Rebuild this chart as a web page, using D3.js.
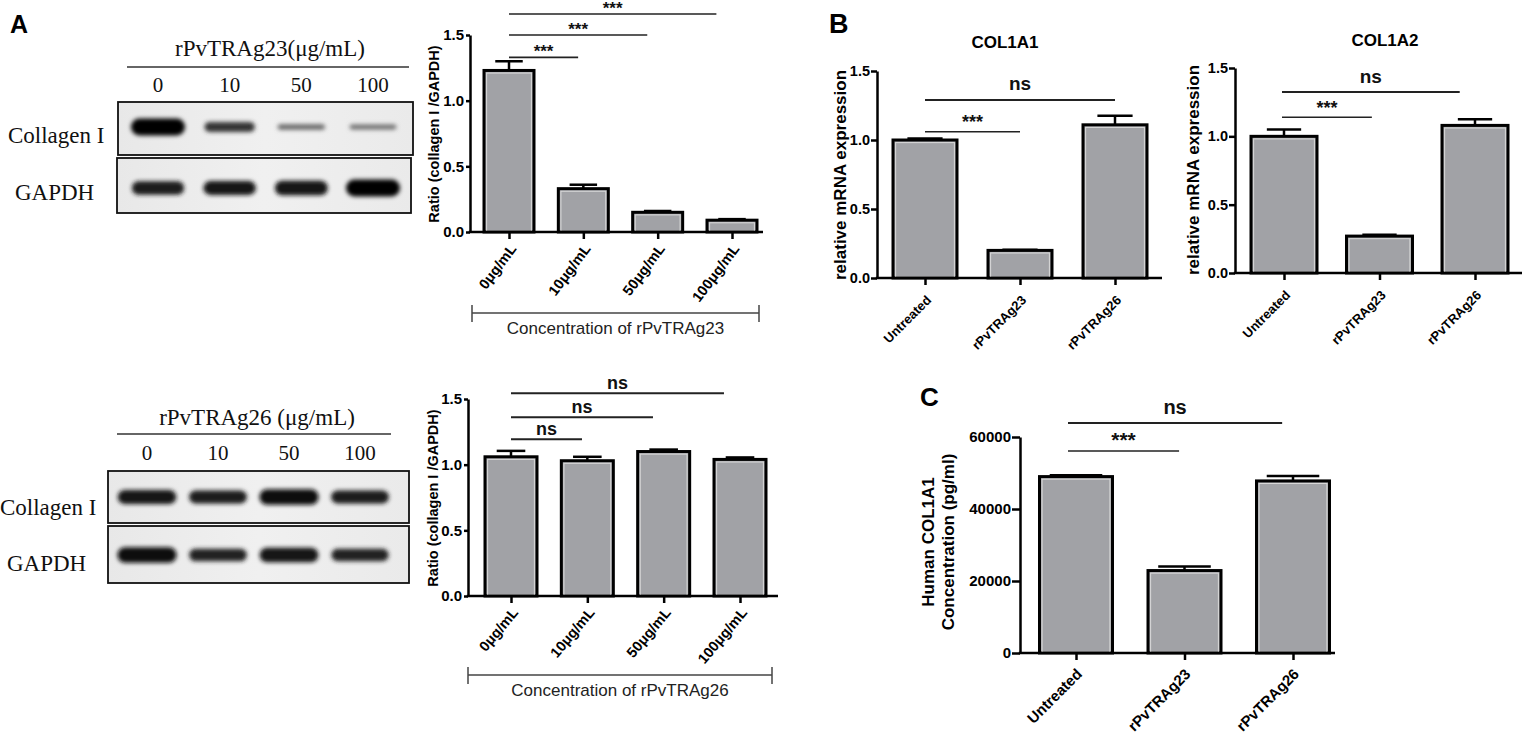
<!DOCTYPE html>
<html><head><meta charset="utf-8">
<script src="https://cdn.jsdelivr.net/npm/d3@7"></script>
<style>body{margin:0;background:#fff} svg{display:block}</style>
</head><body><svg id="fig" width="1525" height="739"></svg>
<script>
// ---------------- DATA ----------------
const blotDoses = ["0", "10", "50", "100"];
const collagenBands23 = [1.0, 0.62, 0.3, 0.27];
const gapdhBands23 = [0.82, 0.84, 0.88, 1.0];
const collagenBands26 = [0.86, 0.8, 0.92, 0.8];
const gapdhBands26 = [0.92, 0.78, 0.88, 0.76];

const doseLabels = ["0μg/mL", "10μg/mL", "50μg/mL", "100μg/mL"];
const ratio23 = [1.23, 0.33, 0.15, 0.09];
const ratio23Err = [0.07, 0.03, 0.01, 0.008];
const ratio26 = [1.06, 1.03, 1.10, 1.04];
const ratio26Err = [0.045, 0.03, 0.015, 0.015];

const treatments = ["Untreated", "rPvTRAg23", "rPvTRAg26"];
const col1a1 = [1.00, 0.20, 1.11];
const col1a1Err = [0.01, 0.005, 0.065];
const col1a2 = [1.00, 0.27, 1.08];
const col1a2Err = [0.05, 0.01, 0.045];
const elisa = [49000, 22900, 47800];
const elisaErr = [400, 1100, 1400];

const ratioTicks = [0, 0.5, 1.0, 1.5];
const elisaTicks = [0, 20000, 40000, 60000];

const sigRatio23 = [{a:0,b:1,t:"***",h:1.33},{a:0,b:2,t:"***",h:1.50},{a:0,b:3,t:"***",h:1.66}];
const sigRatio26 = [{a:0,b:1,t:"ns",h:1.194},{a:0,b:2,t:"ns",h:1.361},{a:0,b:3,t:"ns",h:1.544}];
const sigCol1a1 = [{a:0,b:1,t:"***",h:1.06},{a:0,b:2,t:"ns",h:1.29}];
const sigCol1a2 = [{a:0,b:1,t:"***",h:1.14},{a:0,b:2,t:"ns",h:1.324}];
const sigElisa = [{a:0,b:1,t:"***",h:56100},{a:0,b:2,t:"ns",h:63900}];

// ---------------- DRAWING ----------------
const svg = d3.select("#fig");
const SANS = "'Liberation Sans', Arial, sans-serif";
const SERIF = "'Liberation Serif', 'Times New Roman', serif";
svg.append("rect").attr("width", 1525).attr("height", 739).attr("fill", "#fff");
const defs = svg.append("defs");
defs.append("filter").attr("id", "blur").attr("x", "-30%").attr("y", "-100%")
  .attr("width", "160%").attr("height", "300%")
  .append("feGaussianBlur").attr("stdDeviation", 2.0);
const bg = defs.append("linearGradient").attr("id", "blotbg").attr("x1", 0).attr("x2", 1).attr("y1", 0).attr("y2", 0);
bg.append("stop").attr("offset", "0%").attr("stop-color", "#e8e8e8");
bg.append("stop").attr("offset", "50%").attr("stop-color", "#f0f0f0");
bg.append("stop").attr("offset", "100%").attr("stop-color", "#eaeaea");

function letter(t, x, y, size) {
  svg.append("text").attr("x", x).attr("y", y).attr("font-family", SANS)
    .attr("font-weight", "bold").attr("font-size", size).attr("fill", "#000").text(t);
}
letter("A", 10, 33, 25);
letter("B", 829, 33, 27);
letter("C", 920, 406, 26);

function drawBlot(cfg) {
  const g = svg.append("g");
  const lane = d3.scalePoint().domain(blotDoses).range(cfg.laneRange);
  g.append("text").attr("x", cfg.titleX).attr("y", cfg.titleY).attr("text-anchor", "middle")
    .attr("font-family", SERIF).attr("font-size", 23).attr("fill", "#111").text(cfg.title);
  g.append("line").attr("x1", cfg.rule[0]).attr("x2", cfg.rule[1]).attr("y1", cfg.ruleY).attr("y2", cfg.ruleY)
    .attr("stroke", "#333").attr("stroke-width", 1.5);
  g.selectAll(".dose").data(blotDoses).join("text").attr("class", "dose")
    .attr("x", d => lane(d)).attr("y", cfg.doseY).attr("text-anchor", "middle")
    .attr("font-family", SERIF).attr("font-size", 21).attr("fill", "#111").text(d => d);
  cfg.rows.forEach(row => {
    g.append("rect").attr("x", row.box[0]).attr("y", row.box[1])
      .attr("width", row.box[2] - row.box[0]).attr("height", row.box[3] - row.box[1])
      .attr("fill", "url(#blotbg)").attr("stroke", "#111").attr("stroke-width", 1.8);
    g.append("text").attr("x", row.labelX).attr("y", row.labelY)
      .attr("font-family", SERIF).attr("font-size", 23).attr("fill", "#111").text(row.label);
    const bands = g.append("g").attr("filter", "url(#blur)");
    const bw = v => cfg.bandW * (0.82 + 0.18 * v);
    const bh = v => 3 + 14 * Math.pow(v, 1.5);
    bands.selectAll("rect").data(row.values).join("rect")
      .attr("x", (v, i) => lane(blotDoses[i]) - bw(v) / 2)
      .attr("y", v => row.bandY - bh(v) / 2)
      .attr("width", bw).attr("height", bh)
      .attr("rx", v => bh(v) / 2).attr("ry", v => bh(v) / 2)
      .attr("fill", v => d3.interpolateRgb("#cfcfcf", "#060606")(Math.pow(v, 0.55)));
  });
}

drawBlot({
  title: "rPvTRAg23(μg/mL)", titleX: 270, titleY: 56, rule: [127, 409], ruleY: 67, doseY: 92,
  laneRange: [158, 373], bandW: 54,
  rows: [
    {label: "Collagen I", labelX: 8, labelY: 143, box: [118, 102, 413, 155], bandY: 127, values: collagenBands23},
    {label: "GAPDH", labelX: 15, labelY: 200, box: [117, 158, 411, 213], bandY: 188, values: gapdhBands23}
  ]
});
drawBlot({
  title: "rPvTRAg26 (μg/mL)", titleX: 257, titleY: 425, rule: [117, 391], ruleY: 434, doseY: 460,
  laneRange: [147, 360], bandW: 60,
  rows: [
    {label: "Collagen I", labelX: 0, labelY: 515, box: [108, 471, 409, 523], bandY: 497, values: collagenBands26},
    {label: "GAPDH", labelX: 7, labelY: 571, box: [108, 526, 409, 583], bandY: 555, values: gapdhBands26}
  ]
});

function drawBars(cfg) {
  const g = svg.append("g");
  const x = d3.scalePoint().domain(cfg.cats).range(cfg.centers);
  const y = d3.scaleLinear().domain(cfg.domain).range(cfg.yRange);
  const y0 = y(0);
  const bw = cfg.bw;
  const data = cfg.values.map((v, i) => ({c: cfg.cats[i], v, e: cfg.errs[i]}));

  // bars
  g.selectAll(".bar").data(data).join("rect").attr("class", "bar")
    .attr("x", d => x(d.c) - bw / 2).attr("y", d => y(d.v))
    .attr("width", bw).attr("height", d => y0 - y(d.v))
    .attr("fill", "#a1a2a6").attr("stroke", "#000").attr("stroke-width", 3);
  g.selectAll(".hl").data(data).join("rect").attr("class", "hl")
    .attr("x", d => x(d.c) - bw / 2 + 2.6).attr("y", d => y(d.v) + 2.6)
    .attr("width", bw - 5.2).attr("height", d => Math.max(0, y0 - y(d.v) - 3.5))
    .attr("fill", "none").attr("stroke", "#d9d9d9").attr("stroke-width", 1);
  // error bars
  g.selectAll(".eb").data(data).join("line").attr("class", "eb")
    .attr("x1", d => x(d.c)).attr("x2", d => x(d.c))
    .attr("y1", d => y(d.v)).attr("y2", d => y(d.v + d.e))
    .attr("stroke", "#000").attr("stroke-width", 2.5);
  g.selectAll(".cap").data(data).join("line").attr("class", "cap")
    .attr("x1", d => x(d.c) - bw * cfg.cap / 2).attr("x2", d => x(d.c) + bw * cfg.cap / 2)
    .attr("y1", d => y(d.v + d.e)).attr("y2", d => y(d.v + d.e))
    .attr("stroke", "#000").attr("stroke-width", 2.5);

  // y axis
  const ya = g.append("g").attr("transform", `translate(${cfg.axisX},0)`)
    .call(d3.axisLeft(y).tickValues(cfg.ticks).tickFormat(cfg.fmt)
      .tickSize(cfg.tickLen).tickPadding(cfg.tickPad).tickSizeOuter(0));
  ya.select(".domain").attr("stroke", "#000").attr("stroke-width", 2.5);
  ya.selectAll(".tick line").attr("stroke", "#000").attr("stroke-width", 2.5);
  ya.selectAll(".tick text").attr("font-family", SANS).attr("font-weight", "bold")
    .attr("font-size", cfg.tickFont).attr("fill", "#000");

  // x axis
  g.append("line").attr("x1", cfg.axisX - 1.2).attr("x2", cfg.axisEnd).attr("y1", y0).attr("y2", y0)
    .attr("stroke", "#000").attr("stroke-width", 2.5);
  const xa = g.append("g").attr("transform", `translate(0,${y0})`)
    .call(d3.axisBottom(x).tickSize(7).tickSizeOuter(0).tickFormat(""));
  xa.select(".domain").remove();
  xa.selectAll(".tick line").attr("stroke", "#000").attr("stroke-width", 2.5);
  g.selectAll(".xl").data(cfg.labels).join("text").attr("class", "xl")
    .attr("transform", (d, i) => `translate(${x(cfg.cats[i]) + cfg.lblDx},${y0 + cfg.lblDy}) rotate(${-cfg.lblAngle})`)
    .attr("text-anchor", "end").attr("font-family", SANS).attr("font-weight", "bold")
    .attr("font-size", cfg.lblFont).attr("fill", "#000").text(d => d);

  // y title
  cfg.yTitle.forEach((t, k) => {
    g.append("text").attr("transform", `translate(${cfg.yTitleX[k]},${cfg.yTitleY}) rotate(-90)`)
      .attr("text-anchor", "middle").attr("font-family", SANS).attr("font-weight", "bold")
      .attr("font-size", cfg.yTitleFont).attr("fill", "#000").text(t);
  });

  // chart title
  if (cfg.title) {
    g.append("text").attr("x", cfg.title[1]).attr("y", cfg.title[2]).attr("text-anchor", "middle")
      .attr("font-family", SANS).attr("font-weight", "bold").attr("font-size", 17).attr("fill", "#000").text(cfg.title[0]);
  }

  // significance
  cfg.sig.forEach(s => {
    const xa0 = x(cfg.cats[s.a]) + cfg.sigStart, xb = x(cfg.cats[s.b]);
    const xe = xb - cfg.sigShrink * (xb - x(cfg.cats[s.a]));
    const yy = y(s.h);
    const isNs = s.t === "ns";
    g.append("line").attr("x1", xa0).attr("x2", xe).attr("y1", yy).attr("y2", yy)
      .attr("stroke", "#222").attr("stroke-width", isNs ? 2 : 1.6);
    g.append("text").attr("x", (xa0 + xe) / 2).attr("y", yy - (isNs ? cfg.nsGap : cfg.starGap))
      .attr("text-anchor", "middle").attr("font-family", SANS).attr("font-weight", "bold")
      .attr("font-size", isNs ? cfg.nsFont : cfg.starFont).attr("fill", "#111").text(s.t);
  });

  // group bracket
  if (cfg.bracket) {
    const b = cfg.bracket;
    g.append("line").attr("x1", b.x0).attr("x2", b.x1).attr("y1", b.y).attr("y2", b.y).attr("stroke", "#444").attr("stroke-width", 1.5);
    [b.x0, b.x1].forEach(xx => g.append("line").attr("x1", xx).attr("x2", xx).attr("y1", b.y - 8).attr("y2", b.y + 9)
      .attr("stroke", "#444").attr("stroke-width", 1.5));
    g.append("text").attr("x", (b.x0 + b.x1) / 2).attr("y", b.y + 21).attr("text-anchor", "middle")
      .attr("font-family", SANS).attr("font-size", 17).attr("fill", "#222").text(b.text);
  }
}

const f1 = d3.format(".1f");
const fInt = d3.format("d");

drawBars({
  cats: doseLabels, labels: doseLabels, values: ratio23, errs: ratio23Err,
  centers: [509, 732], bw: 50, cap: 0.55, domain: [0, 1.5], yRange: [232, 35],
  axisX: 470, axisEnd: 763, ticks: ratioTicks, fmt: f1, tickLen: 4, tickPad: 2, tickFont: 15,
  lblDx: 8, lblDy: 17, lblFont: 14.5, lblAngle: 53,
  yTitle: ["Ratio (collagen I /GAPDH)"], yTitleX: [439], yTitleY: 134, yTitleFont: 14.5,
  sig: sigRatio23, sigStart: 0, sigShrink: 0.07, starGap: 0, nsGap: 4, starFont: 17, nsFont: 17,
  bracket: {x0: 472, x1: 759, y: 313, text: "Concentration of rPvTRAg23"}
});
drawBars({
  cats: doseLabels, labels: doseLabels, values: ratio26, errs: ratio26Err,
  centers: [511, 740], bw: 52, cap: 0.55, domain: [0, 1.5], yRange: [596, 399],
  axisX: 468, axisEnd: 778, ticks: ratioTicks, fmt: f1, tickLen: 4, tickPad: 2, tickFont: 15,
  lblDx: 8, lblDy: 17, lblFont: 14.5, lblAngle: 50,
  yTitle: ["Ratio (collagen I /GAPDH)"], yTitleX: [438], yTitleY: 498, yTitleFont: 14.5,
  sig: sigRatio26, sigStart: 0, sigShrink: 0.07, starGap: 0, nsGap: 4, starFont: 17, nsFont: 18,
  bracket: {x0: 468, x1: 772, y: 675, text: "Concentration of rPvTRAg26"}
});
drawBars({
  cats: treatments, labels: treatments, values: col1a1, errs: col1a1Err,
  centers: [925, 1115], bw: 64, cap: 0.55, domain: [0, 1.5], yRange: [278, 71],
  axisX: 877, axisEnd: 1162, ticks: ratioTicks, fmt: f1, tickLen: 6, tickPad: 1, tickFont: 14.5,
  lblDx: 7, lblDy: 23, lblFont: 13, lblAngle: 45,
  yTitle: ["relative mRNA expression"], yTitleX: [846], yTitleY: 175, yTitleFont: 17,
  title: ["COL1A1", 1005, 48],
  sig: sigCol1a1, sigStart: 0, sigShrink: 0, starGap: 4, nsGap: 10, starFont: 18, nsFont: 19
});
drawBars({
  cats: treatments, labels: treatments, values: col1a2, errs: col1a2Err,
  centers: [1284, 1475], bw: 66, cap: 0.52, domain: [0, 1.5], yRange: [273, 68],
  axisX: 1235, axisEnd: 1522, ticks: ratioTicks, fmt: f1, tickLen: 6, tickPad: 1, tickFont: 14.5,
  lblDx: 7, lblDy: 23, lblFont: 13, lblAngle: 45,
  yTitle: ["relative mRNA expression"], yTitleX: [1199], yTitleY: 170, yTitleFont: 17,
  title: ["COL1A2", 1385, 46],
  sig: sigCol1a2, sigStart: -2, sigShrink: 0.08, starGap: 3, nsGap: 9, starFont: 18, nsFont: 19
});
drawBars({
  cats: treatments, labels: treatments, values: elisa, errs: elisaErr,
  centers: [1076, 1293], bw: 73, cap: 0.72, domain: [0, 60000], yRange: [653, 437],
  axisX: 1020, axisEnd: 1335, ticks: elisaTicks, fmt: fInt, tickLen: 8, tickPad: 1, tickFont: 15,
  lblDx: 7, lblDy: 22, lblFont: 15, lblAngle: 45,
  yTitle: ["Human COL1A1", "Concentration (pg/ml)"], yTitleX: [934, 954], yTitleY: 542, yTitleFont: 17,
  sig: sigElisa, sigStart: -8, sigShrink: 0.05, starGap: 4, nsGap: 9, starFont: 21, nsFont: 20
});
</script></body></html>
